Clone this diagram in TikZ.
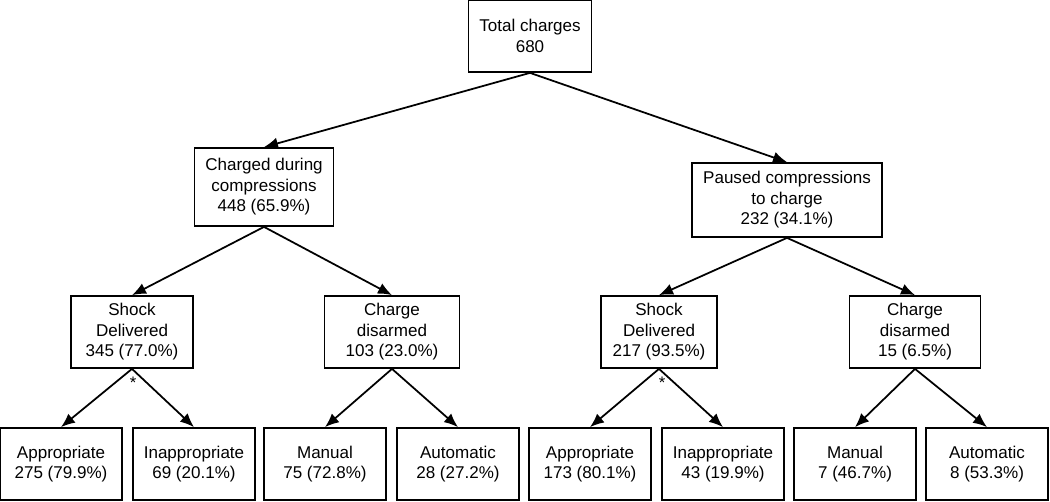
\documentclass[tikz,border=0pt]{standalone}
\usepackage{fontspec}
\setmainfont{Liberation Sans}
\usetikzlibrary{arrows.meta}

\begin{document}
\begin{tikzpicture}[x=0.02cm, y=-0.02cm,
    box/.style={draw, line width=1pt, align=center, inner sep=1pt,
      minimum width=2.44cm, minimum height=1.44cm,
      font=\fontsize{9.7}{11.7}\selectfont},
    arr/.style={-{Latex[length=2.8mm, width=2.3mm]}, line width=1pt}]
            \useasboundingbox (0,0) rectangle (1050,501);
            % Nodos
            \node[box, minimum width=2.46cm] (total) at (530,36) {Total charges\\680};
            \node[box, minimum width=2.78cm, minimum height=1.56cm] (during) at (264,187) {Charged during\\compressions\\448 (65.9\%)};
            \node[box, minimum width=3.8cm, minimum height=1.48cm] (paused) at (787,200) {Paused compressions\\to charge\\232 (34.1\%)};
            \node[box] (shockL) at (132,332) {Shock\\Delivered\\345 (77.0\%)};
            \node[box, minimum width=2.7cm] (disarmL) at (392,332) {Charge\\disarmed\\103 (23.0\%)};
            \node[box, minimum width=2.32cm] (shockR) at (659,332) {Shock\\Delivered\\217 (93.5\%)};
            \node[box, minimum width=2.62cm] (disarmR) at (915,332) {Charge\\disarmed\\15 (6.5\%)};
            \node[box] (apprL) at (61,464) {Appropriate\\275 (79.9\%)};
            \node[box] (inapprL) at (194,464) {Inappropriate\\69 (20.1\%)};
            \node[box] (manL) at (325,464) {Manual\\75 (72.8\%)};
            \node[box] (autoL) at (458,464) {Automatic\\28 (27.2\%)};
            \node[box] (apprR) at (590,464) {Appropriate\\173 (80.1\%)};
            \node[box] (inapprR) at (723,464) {Inappropriate\\43 (19.9\%)};
            \node[box] (manR) at (855,464) {Manual\\7 (46.7\%)};
            \node[box] (autoR) at (987,464) {Automatic\\8 (53.3\%)};
            \node[font=\fontsize{9.5}{10}\selectfont, inner sep=0pt] (starL) at (133,383) {*};
            \node[font=\fontsize{9.5}{10}\selectfont, inner sep=0pt] (starR) at (662,383) {*};

            % Aristas
            \draw[arr] (total.south) -- (during.north);
            \draw[arr] (total.south) -- (paused.north);
            \draw[arr] (during.south) -- (shockL.north);
            \draw[arr] (during.south) -- (disarmL.north);
            \draw[arr] (paused.south) -- (shockR.north);
            \draw[arr] (paused.south) -- (disarmR.north);
            \draw[arr] (shockL.south) -- (apprL.north);
            \draw[arr] (shockL.south) -- (inapprL.north);
            \draw[arr] (disarmL.south) -- (manL.north);
            \draw[arr] (disarmL.south) -- (autoL.north);
            \draw[arr] (shockR.south) -- (apprR.north);
            \draw[arr] (shockR.south) -- (inapprR.north);
            \draw[arr] (disarmR.south) -- (manR.north);
            \draw[arr] (disarmR.south) -- (autoR.north);
\end{tikzpicture}
\end{document}
